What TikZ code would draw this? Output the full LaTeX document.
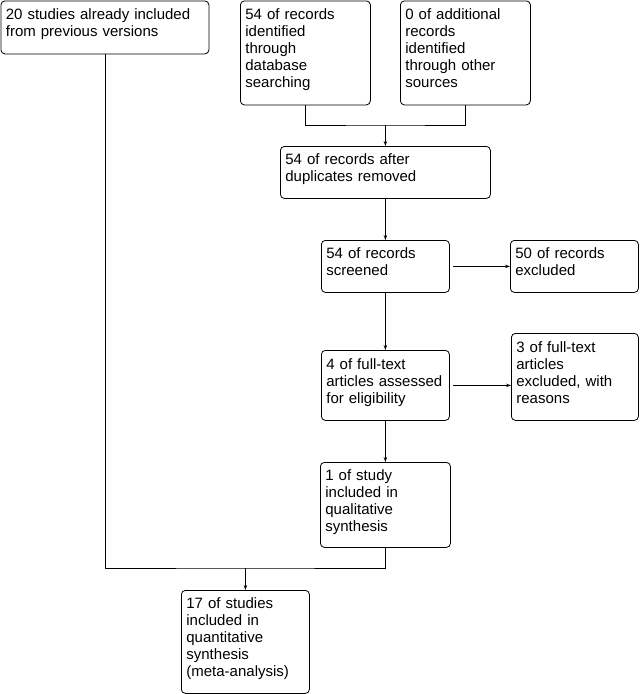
\documentclass[tikz,border=0pt]{standalone}
\usepackage{fontspec}
\setmainfont{Liberation Sans}
\usetikzlibrary{arrows.meta,calc}

\begin{document}
\begin{tikzpicture}[
      x=1pt, y=-1pt,
      >={Stealth[length=5pt,width=3.5pt]},
      line width=0.8pt,
      box/.style={draw, rounded corners=4pt, anchor=north west, align=left, inner xsep=5pt, inner ysep=0pt,
        execute at begin node={\rule{0pt}{11pt}}, execute at end node={\rule[-9pt]{0pt}{9pt}},
        font=\fontsize{15}{17}\selectfont}]
    \useasboundingbox (0,0) rectangle (642,694);
    % Row 1: sources
    \node[box, text width=198pt, minimum height=53pt]  (prev) at (0.5,0.5) {20 studies already included\\from previous versions};
    \node[box, text width=120pt, minimum height=104pt] (db)   at (240,0.5) {54 of records\\identified\\through\\database\\searching};
    \node[box, text width=120pt, minimum height=104pt] (oth)  at (400,0.5) {0 of additional\\records\\identified\\through other\\sources};
    % Row 2: screening
    \node[box, text width=200pt, minimum height=52pt]  (dup)  at (280,146) {54 of records after\\duplicates removed};
    \node[box, text width=118pt, minimum height=52pt]  (scr)  at (321,240) {54 of records\\screened};
    \node[box, text width=118pt, minimum height=52pt]  (exc)  at (510,240) {50 of records\\excluded};
    % Row 3: eligibility
    \node[box, text width=118pt, minimum height=70pt]  (elig) at (321,350) {4 of full-text\\articles assessed\\for eligibility};
    \node[box, text width=117pt, minimum height=87pt]  (ftx)  at (511,333) {3 of full-text\\articles\\excluded, with\\reasons};
    % Row 4: included
    \node[box, text width=120pt, minimum height=85pt]  (qual) at (320,462) {1 of study\\included in\\qualitative\\synthesis};
    \node[box, text width=118pt, minimum height=103pt] (meta) at (181,590) {17 of studies\\included in\\quantitative\\synthesis\\(meta-analysis)};
    % Connectors
    \coordinate (j1) at ($(dup.north)+(0,-21)$);
    \coordinate (j2) at ($(meta.north)+(0,-22)$);
    \draw (db.south) |- (j1) -| (oth.south);
    \draw[->] (j1) -- (dup.north);
    \draw[->] (dup.south) -- (scr.north);
    \draw[->, shorten <=3pt] (scr.east) -- (exc.west);
    \draw[->] (scr.south) -- (elig.north);
    \draw[->, shorten <=3pt] (elig.east) -- (elig.east -| ftx.west);
    \draw[->] (elig.south) -- (qual.north);
    \draw (qual.south) |- (j2) -| (prev.south);
    \draw[->] (j2) -- (meta.north);
  \end{tikzpicture}
\end{document}
